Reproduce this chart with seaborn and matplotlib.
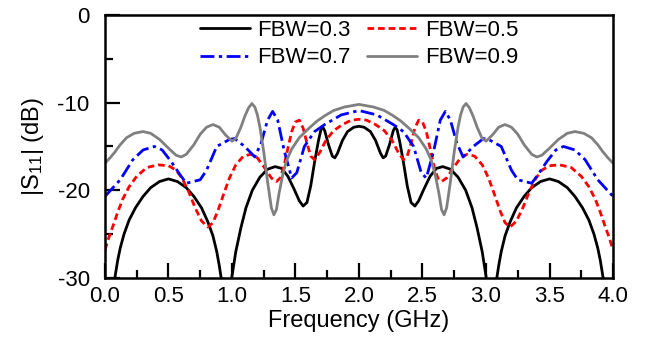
import matplotlib
matplotlib.use("Agg")
import matplotlib.pyplot as plt
import seaborn as sns
import pandas as pd

# ---- data ----
freq_03 = [0.00, 0.06, 0.08, 0.10, 0.12, 0.15, 0.19, 0.24, 0.30, 0.36, 0.43, 0.50, 0.57, 0.64, 0.70,
           0.76, 0.81, 0.85, 0.88, 0.90, 0.92, 0.96, 0.99, 1.00, 1.03, 1.07, 1.11, 1.16, 1.22, 1.28,
           1.34, 1.39, 1.44, 1.49, 1.53, 1.56, 1.59, 1.62, 1.65, 1.68, 1.70, 1.715, 1.73, 1.76, 1.79,
           1.81, 1.83, 1.87, 1.91, 1.96, 2.00,
           2.04, 2.09, 2.13, 2.17, 2.19, 2.21, 2.24, 2.27, 2.285, 2.30, 2.32, 2.35, 2.38, 2.41, 2.44,
           2.47, 2.51, 2.56, 2.61, 2.66, 2.72, 2.78, 2.84, 2.89, 2.93, 2.97, 3.00, 3.01, 3.04, 3.08,
           3.10, 3.12, 3.15, 3.19, 3.24, 3.30, 3.36, 3.43, 3.50, 3.57, 3.64, 3.70, 3.76, 3.81, 3.85,
           3.88, 3.90, 3.92, 3.94, 4.00]
s11_03 = [-37, -31.5, -29.8, -28.0, -26.6, -25.0, -23.4, -22.0, -20.7, -19.7, -19.0, -18.7, -19.0, -19.7, -20.7,
          -22.0, -23.6, -25.2, -27.0, -28.6, -30.5, -40, -31, -29.8, -27.0, -24.3, -22.0, -20.0, -18.5, -17.6,
          -17.3, -17.5, -18.4, -19.9, -21.2, -21.8, -21.4, -19.5, -16.8, -14.4, -13.1, -12.8, -13.2, -14.8, -16.1,
          -16.3, -15.8, -14.3, -13.3, -12.8, -12.7,
          -12.8, -13.3, -14.3, -15.8, -16.3, -16.1, -14.8, -13.2, -12.8, -13.1, -14.4, -16.8, -19.5, -21.4, -21.8,
          -21.2, -19.9, -18.4, -17.5, -17.3, -17.6, -18.5, -20.0, -22.0, -24.3, -27.0, -29.8, -31, -40, -30.5,
          -28.6, -27.0, -25.2, -23.6, -22.0, -20.7, -19.7, -19.0, -18.7, -19.0, -19.7, -20.7, -22.0, -23.4, -25.0,
          -26.6, -28.0, -29.8, -31.5, -37]

freq_05 = [0.00, 0.03, 0.065, 0.10, 0.14, 0.19, 0.25, 0.33, 0.42, 0.50, 0.56, 0.61, 0.66, 0.71, 0.76,
           0.81, 0.85, 0.89, 0.94, 0.98, 1.03, 1.09, 1.15, 1.20, 1.26, 1.31, 1.35, 1.38, 1.41, 1.44,
           1.47, 1.50, 1.53, 1.56, 1.59, 1.62, 1.65, 1.69, 1.74, 1.80, 1.87, 1.94, 2.00,
           2.06, 2.13, 2.20, 2.26, 2.31, 2.35, 2.38, 2.41, 2.44, 2.47, 2.50, 2.53, 2.56, 2.59, 2.62,
           2.65, 2.69, 2.74, 2.80, 2.85, 2.91, 2.97, 3.02, 3.06, 3.11, 3.15, 3.19, 3.24, 3.29, 3.34,
           3.39, 3.44, 3.50, 3.58, 3.67, 3.75, 3.81, 3.86, 3.90, 3.935, 3.97, 4.00]
s11_05 = [-26.8, -25.4, -24.0, -22.5, -21.0, -19.6, -18.4, -17.4, -17.1, -17.2, -17.7, -18.7, -20.2, -22.0, -23.5,
          -24.2, -23.7, -22.3, -20.2, -18.6, -17.1, -16.1, -15.9, -16.3, -17.5, -18.6, -19.0, -18.6, -17.2, -15.2,
          -13.3, -12.2, -12.0, -12.9, -14.6, -16.1, -16.5, -15.7, -14.3, -13.2, -12.5, -12.0, -11.9,
          -12.0, -12.5, -13.2, -14.3, -15.7, -16.5, -16.1, -14.6, -12.9, -12.0, -12.2, -13.3, -15.2, -17.2, -18.6,
          -19.0, -18.6, -17.5, -16.3, -15.9, -16.1, -17.1, -18.6, -20.2, -22.3, -23.7, -24.2, -23.5, -22.0, -20.2,
          -18.7, -17.7, -17.2, -17.1, -17.4, -18.4, -19.6, -21.0, -22.5, -24.0, -25.4, -26.8]

freq_07 = [0.00, 0.12, 0.22, 0.30, 0.39, 0.45, 0.52, 0.59, 0.64, 0.75, 0.80, 0.88, 0.98, 1.02, 1.10,
           1.18, 1.23, 1.28, 1.32, 1.36, 1.41, 1.47, 1.51, 1.57, 1.65, 1.73, 1.86, 2.00,
           2.14, 2.27, 2.35, 2.43, 2.49, 2.53, 2.59, 2.64, 2.68, 2.72, 2.77, 2.82, 2.90, 2.98, 3.02,
           3.12, 3.20, 3.25, 3.36, 3.41, 3.48, 3.55, 3.61, 3.70, 3.78, 3.88, 4.00]
s11_07 = [-20.7, -18.8, -16.5, -15.4, -15.0, -15.4, -16.7, -18.2, -19.2, -18.8, -17.7, -15.0, -14.2, -14.1, -15.0,
          -16.2, -14.6, -12.0, -11.0, -12.0, -15.4, -18.6, -18.0, -15.0, -13.3, -12.5, -11.4, -10.9,
          -11.4, -12.5, -13.3, -15.0, -18.0, -18.6, -15.4, -12.0, -11.0, -12.0, -14.6, -16.2, -15.0, -14.1, -14.2,
          -15.0, -17.7, -18.8, -19.2, -18.2, -16.7, -15.4, -15.0, -15.4, -16.5, -18.8, -20.7]

freq_09 = [0.00, 0.04, 0.08, 0.12, 0.17, 0.23, 0.30, 0.36, 0.43, 0.50, 0.56, 0.60, 0.64, 0.70, 0.75,
           0.80, 0.85, 0.90, 0.95, 1.00, 1.03, 1.07, 1.10, 1.13, 1.157, 1.18, 1.20, 1.22, 1.25, 1.28,
           1.31, 1.33, 1.35, 1.37, 1.40, 1.43, 1.47, 1.53, 1.60, 1.67, 1.73, 1.80, 1.885, 2.00,
           2.115, 2.20, 2.27, 2.33, 2.40, 2.47, 2.53, 2.57, 2.60, 2.63, 2.65, 2.67, 2.69, 2.72, 2.75,
           2.78, 2.80, 2.82, 2.843, 2.87, 2.90, 2.93, 2.97, 3.00, 3.05, 3.10, 3.15, 3.20, 3.25, 3.30,
           3.36, 3.40, 3.44, 3.50, 3.57, 3.64, 3.70, 3.77, 3.83, 3.88, 3.92, 3.96, 4.00]
s11_09 = [-16.9, -16.3, -15.6, -14.8, -14.0, -13.5, -13.3, -13.5, -14.2, -15.2, -16.0, -16.2, -15.9, -14.8, -13.6,
          -12.8, -12.5, -12.8, -13.7, -14.4, -14.1, -12.8, -11.6, -10.6, -10.1, -10.5, -11.4, -12.8, -15.6, -19.0,
          -22.0, -22.8, -22.2, -20.4, -18.2, -16.6, -15.3, -14.0, -13.0, -12.1, -11.5, -10.9, -10.5, -10.2,
          -10.5, -10.9, -11.5, -12.1, -13.0, -14.0, -15.3, -16.6, -18.2, -20.4, -22.2, -22.8, -22.0, -19.0, -15.6,
          -12.8, -11.4, -10.5, -10.1, -10.6, -11.6, -12.8, -14.1, -14.4, -13.7, -12.8, -12.5, -12.8, -13.6, -14.8,
          -15.9, -16.2, -16.0, -15.2, -14.2, -13.5, -13.3, -13.5, -14.0, -14.8, -15.6, -16.3, -16.9]

series_labels = ["FBW=0.3", "FBW=0.5", "FBW=0.7", "FBW=0.9"]
x_ticks = [0.0, 0.5, 1.0, 1.5, 2.0, 2.5, 3.0, 3.5, 4.0]
y_ticks = [-30, -20, -10, 0]

# ---- build long-form table ----
frames = []
for lab, fx, fy in zip(series_labels, [freq_03, freq_05, freq_07, freq_09],
                       [s11_03, s11_05, s11_07, s11_09]):
    frames.append(pd.DataFrame({"f": fx, "s11": fy, "FBW": lab}))
df = pd.concat(frames, ignore_index=True)

sns.set_style("white")
plt.rcParams["font.family"] = ["Liberation Sans", "DejaVu Sans"]
plt.rcParams["mathtext.default"] = "regular"
plt.rcParams["axes.unicode_minus"] = False
plt.rcParams["text.color"] = "black"
plt.rcParams["axes.labelcolor"] = "black"
plt.rcParams["xtick.color"] = "black"
plt.rcParams["ytick.color"] = "black"

fig = plt.figure(figsize=(6.48, 3.41), dpi=100)
ax = fig.add_axes([0.162, 0.185, 0.784, 0.771])

palette = {"FBW=0.3": "#000000", "FBW=0.5": "#ff0000", "FBW=0.7": "#0000ff", "FBW=0.9": "#808080"}
dashes = {"FBW=0.3": "", "FBW=0.5": (2.4, 1.4), "FBW=0.7": (5.0, 1.6, 1.2, 1.6), "FBW=0.9": ""}

sns.lineplot(data=df, x="f", y="s11", hue="FBW", style="FBW", palette=palette,
             dashes=dashes, estimator=None, sort=False, lw=2.0, ax=ax)

ax.set_xlim(0, 4)
ax.set_ylim(-30, 0)
ax.set_xticks(x_ticks)
ax.set_xticklabels([f"{v:.1f}" for v in x_ticks])
ax.set_yticks(y_ticks)
ax.set_yticklabels([str(v) for v in y_ticks])
ax.set_xticks([0.25 + 0.5 * i for i in range(8)], minor=True)
ax.set_yticks([-25, -15, -5], minor=True)

ax.tick_params(axis="both", which="major", direction="in", length=10.5, width=1.6,
               labelsize=16, pad=6, top=False, right=False, bottom=True, left=True,
               colors="black")
ax.tick_params(axis="both", which="minor", direction="in", length=5.5, width=1.6,
               top=False, right=False, bottom=True, left=True, colors="black")
ax.tick_params(axis="y", which="major", pad=11)

for sp in ax.spines.values():
    sp.set_linewidth(1.8)
    sp.set_color("black")
    sp.set_visible(True)

ax.set_xlabel("Frequency (GHz)", fontsize=17, labelpad=2)
ax.set_ylabel("|S$_{11}$| (dB)", fontsize=17, labelpad=8)

handles, labels = ax.get_legend_handles_labels()
order = [0, 2, 1, 3]
ax.legend([handles[i] for i in order], [labels[i] for i in order], ncol=2,
          loc="upper center", bbox_to_anchor=(0.5, 1.0),
          frameon=False, fontsize=16, handlelength=2.25, handletextpad=0.36,
          columnspacing=0.72, labelspacing=0.29, borderaxespad=0.0, borderpad=0.22)

fig.savefig("out.png", dpi=100)
